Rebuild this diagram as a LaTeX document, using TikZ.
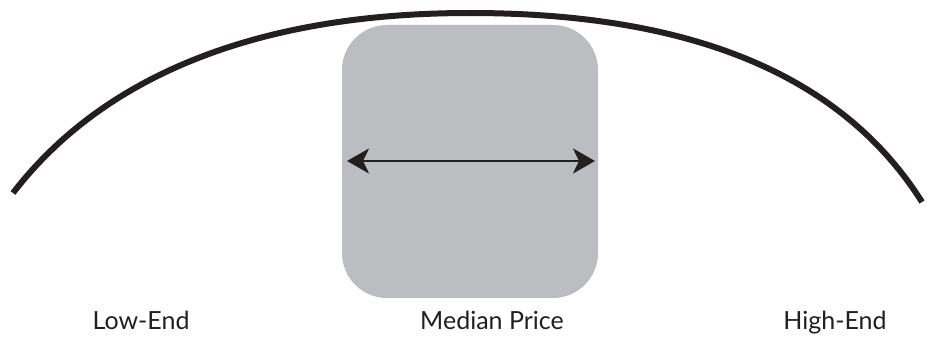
\documentclass[tikz,border=0pt]{standalone}
\usepackage{fontspec}
\setmainfont{Lato}
\usetikzlibrary{arrows.meta}
\definecolor{boxgray}{RGB}{188,189,193}
\definecolor{inkblack}{RGB}{35,31,32}
\tikzset{
  curveline/.style={line width=6pt, draw=inkblack, line cap=butt},
  pricebox/.style={fill=boxgray, draw=none, rounded corners=45pt, inner sep=0pt, minimum width=256pt, minimum height=273pt},
  spanarrow/.style={line width=2.5pt, draw=inkblack, {Stealth[length=22pt,width=25pt,inset=6pt]}-{Stealth[length=22pt,width=25pt,inset=6pt]}},
  lbl/.style={anchor=base, inner sep=0pt, text=inkblack, font=\fontsize{25}{29}\selectfont}
}
\begin{document}
\begin{tikzpicture}[x=1pt,y=-1pt]
\useasboundingbox (0,0) rectangle (927,337);
\node[pricebox] (box) at (470,161.5) {};
\coordinate (cl) at (13,193);
\coordinate (ct) at (470,13);
\coordinate (cr) at (922,202);
\draw[curveline] (cl) .. controls (100,80) and (250,13) .. (ct)
                      .. controls (700,13) and (845,80) .. (cr);
\coordinate (al) at (347,161);
\coordinate (ar) at (595,161);
\draw[spanarrow] (al) -- (ar);
\node[lbl] (low) at (141,329) {Low-End};
\node[lbl] (med) at (492,329) {Median Price};
\node[lbl] (high) at (835,329) {High-End};
\end{tikzpicture}
\end{document}
